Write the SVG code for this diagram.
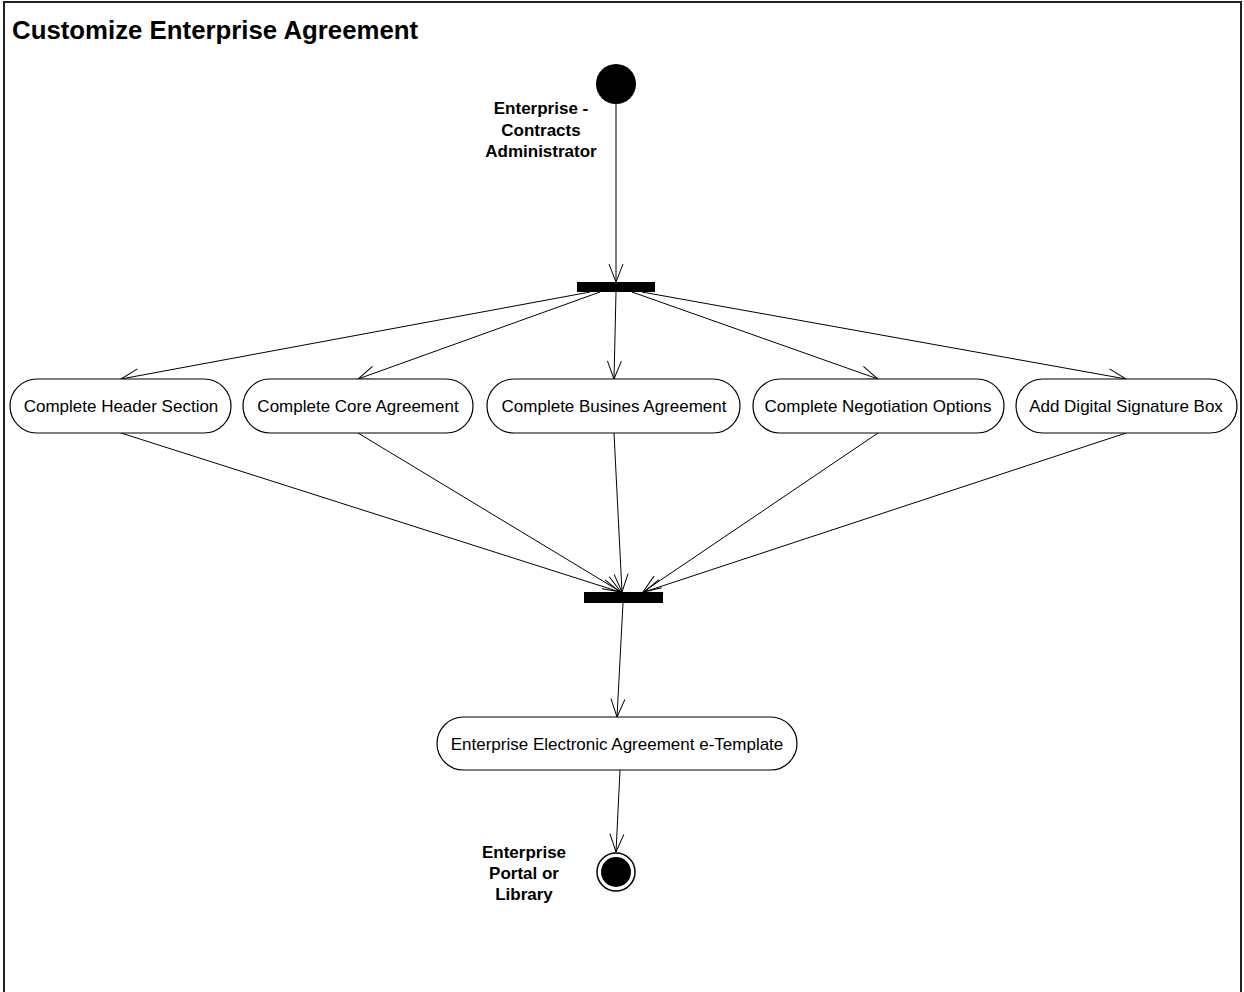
<svg xmlns="http://www.w3.org/2000/svg" width="1244" height="992" viewBox="0 0 1244 992">
<defs>
<style>
.act{fill:#fff;stroke:#000;stroke-width:1.2}
.at{font-family:"Liberation Sans",Arial,sans-serif;font-size:17px;fill:#000;text-anchor:middle}
.lb{font-family:"Liberation Sans",Arial,sans-serif;font-size:17px;font-weight:bold;fill:#000;text-anchor:middle}
.cn{fill:none;stroke:#000;stroke-width:1;marker-end:url(#arr)}
</style>
<marker id="arr" markerWidth="20" markerHeight="18" refX="19" refY="9" orient="auto" markerUnits="userSpaceOnUse">
<path d="M1,2 L19,9 L1,16" fill="none" stroke="#000" stroke-width="1"/>
</marker>
</defs>
<rect x="0" y="0" width="1244" height="992" fill="#fff"/>
<rect x="4" y="2" width="1237" height="1000" fill="none" stroke="#222" stroke-width="2"/>
<text x="12" y="39" font-family="'Liberation Sans',Arial,sans-serif" font-size="25.8" font-weight="bold">Customize Enterprise Agreement</text>

<g id="connectors">
<line class="cn" x1="616" y1="104" x2="616" y2="282"/>
<line class="cn" x1="590" y1="292" x2="121" y2="379"/>
<line class="cn" x1="600" y1="292" x2="358" y2="379"/>
<line class="cn" x1="616" y1="292" x2="614" y2="379"/>
<line class="cn" x1="632" y1="292" x2="878" y2="379"/>
<line class="cn" x1="642" y1="292" x2="1126" y2="379"/>
<line class="cn" x1="121" y1="433" x2="620" y2="592"/>
<line class="cn" x1="358" y1="433" x2="621" y2="592"/>
<line class="cn" x1="614" y1="433" x2="622" y2="592"/>
<line class="cn" x1="878" y1="433" x2="643" y2="592"/>
<line class="cn" x1="1126" y1="433" x2="644" y2="592"/>
<line class="cn" x1="623" y1="603" x2="617" y2="717"/>
<line class="cn" x1="620" y1="770" x2="616" y2="852"/>
</g>

<g id="start">
<circle cx="616" cy="84" r="20" fill="#000"/>
<text class="lb" x="541" y="114">Enterprise -</text>
<text class="lb" x="541" y="136">Contracts</text>
<text class="lb" x="541" y="157">Administrator</text>
</g>
<g id="fork">
<rect x="577" y="282" width="78" height="10" fill="#000"/>
</g>
<g id="header">
<rect class="act" x="10" y="379" width="221" height="54" rx="27"/>
<text class="at" x="121" y="412">Complete Header Section</text>
</g>
<g id="core">
<rect class="act" x="243" y="379" width="230" height="54" rx="27"/>
<text class="at" x="358" y="412">Complete Core Agreement</text>
</g>
<g id="busines">
<rect class="act" x="487" y="379" width="253" height="54" rx="27"/>
<text class="at" x="614" y="412">Complete Busines Agreement</text>
</g>
<g id="negotiation">
<rect class="act" x="753" y="379" width="251" height="54" rx="27"/>
<text class="at" x="878" y="412">Complete Negotiation Options</text>
</g>
<g id="signature">
<rect class="act" x="1016" y="379" width="221" height="54" rx="27"/>
<text class="at" x="1126" y="412">Add Digital Signature Box</text>
</g>
<g id="join">
<rect x="584" y="592" width="79" height="11" fill="#000"/>
</g>
<g id="template">
<rect class="act" x="437" y="717" width="360" height="53" rx="26.5"/>
<text class="at" x="617" y="750">Enterprise Electronic Agreement e-Template</text>
</g>
<g id="end">
<circle cx="616" cy="872" r="19" fill="#fff" stroke="#000" stroke-width="1.5"/>
<circle cx="616" cy="872" r="15" fill="#000"/>
<text class="lb" x="524" y="858">Enterprise</text>
<text class="lb" x="524" y="879">Portal or</text>
<text class="lb" x="524" y="900">Library</text>
</g>
</svg>
